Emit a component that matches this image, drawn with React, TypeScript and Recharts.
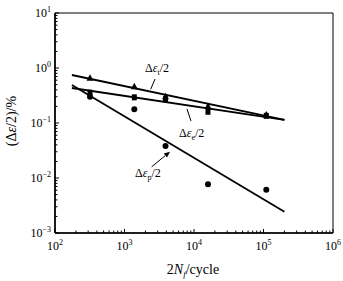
import React from 'react'
import {
  ComposedChart, Line, Scatter, XAxis, YAxis, ReferenceArea, ReferenceLine, ReferenceDot
} from 'recharts'

const FONT = '"Liberation Serif", "Times New Roman", serif'

// 轴的十进位
const xDecades = [2, 3, 4, 5, 6]
const yDecades = [-3, -2, -1, 0, 1]

// 实测点 2Nf / cycle
const cycles = [319, 1384, 3890, 15890, 109700]
const totalStrain = [0.65, 0.457, 0.3, 0.2, 0.14]
const elasticStrain = [0.356, 0.293, 0.27, 0.16, 0.135]
const plasticStrain = [0.3, 0.177, 0.038, 0.0077, 0.0061]

// 拟合直线两端
const fitCycles = [175, 200000]
const totalFit = [0.746, 0.1135]
const elasticFit = [0.433, 0.1135]
const plasticFit = [0.49, 0.00244]

const logTicks = (decades: number[]) => {
  const out: number[] = []
  decades.forEach((d, i) => {
    const last = i === decades.length - 1
    for (let m = 1; m <= (last ? 1 : 9); m++) out.push(Number((m * Math.pow(10, d)).toPrecision(3)))
  })
  return out
}
const xTicks = logTicks(xDecades)
const yTicks = logTicks(yDecades)

const zip = (xs: number[], ys: number[]) => xs.map((x, i) => ({ x, y: ys[i] }))
const tPts = zip(cycles, totalStrain)
const ePts = zip(cycles, elasticStrain)
const pPts = zip(cycles, plasticStrain)
const tLine = zip(fitCycles, totalFit)
const eLine = zip(fitCycles, elasticFit)
const pLine = zip(fitCycles, plasticFit)

const isMajor = (v: number) => {
  const lg = Math.log10(v)
  return Math.abs(lg - Math.round(lg)) < 1e-6
}
const expText = (v: number) => {
  const e = Math.round(Math.log10(v))
  return e < 0 ? `\u2212${-e}` : `${e}`
}

function XTick(props: any) {
  const { x, y, payload } = props
  const major = isMajor(payload.value)
  return (
    <g>
      <line x1={x} x2={x} y1={y} y2={y - (major ? 4 : 2.5)} stroke="#000" />
      {major && (
        <text x={x} y={y + 17} textAnchor="middle" fontFamily={FONT} fontSize={12} fill="#000">
          10<tspan dy={-5} fontSize={8}>{expText(payload.value)}</tspan>
        </text>
      )}
    </g>
  )
}

function YTick(props: any) {
  const { x, y, payload } = props
  const major = isMajor(payload.value)
  return (
    <g>
      <line x1={x} x2={x + (major ? 4 : 2.5)} y1={y} y2={y} stroke="#000" />
      {major && (
        <text x={x - 4} y={y + 4} textAnchor="end" fontFamily={FONT} fontSize={12} fill="#000">
          10<tspan dy={-5} fontSize={8}>{expText(payload.value)}</tspan>
        </text>
      )}
    </g>
  )
}

function XTitle(props: any) {
  const { x, y, width } = props.viewBox
  return (
    <text x={x + width / 2 - 1} y={y + 41} textAnchor="middle" fontFamily={FONT} fontSize={14} fill="#000">
      2<tspan fontStyle="italic">N</tspan>
      <tspan fontStyle="italic" fontSize={9} dy={3}>f</tspan>
      <tspan dy={-3}>/cycle</tspan>
    </text>
  )
}

function YTitle(props: any) {
  const { y, height } = props.viewBox
  const cy = y + height / 2 - 2
  return (
    <text x={16} y={cy} transform={`rotate(-90, 16, ${cy})`} textAnchor="middle" fontFamily={FONT} fontSize={14} fill="#000">
      (Δ<tspan fontStyle="italic">ε</tspan>/2)/%
    </text>
  )
}

const Triangle = (p: any) => (
  <path d={`M${p.cx},${p.cy - 4}L${p.cx + 3.5},${p.cy + 2.5}L${p.cx - 3.5},${p.cy + 2.5}Z`} fill="#000" />
)
const Square = (p: any) => <rect x={p.cx - 2.5} y={p.cy - 3} width={5} height={6} fill="#000" />
const Dot = (p: any) => <circle cx={p.cx} cy={p.cy} r={3} fill="#000" />

const strainLabel = (sub: string) => (p: any) => (
  <text x={p.cx} y={p.cy} fontFamily={FONT} fontSize={12} fill="#000">
    Δ<tspan fontStyle="italic">ε</tspan>
    <tspan fontSize={8} dy={3}>{sub}</tspan>
    <tspan dy={-3}>/2</tspan>
  </text>
)

const Arrow = (p: any) => {
  const { x1, y1, x2, y2 } = p
  const a = Math.atan2(y2 - y1, x2 - x1)
  const L = 6, W = 2.5
  const bx = x2 - L * Math.cos(a), by = y2 - L * Math.sin(a)
  const nx = -Math.sin(a) * W, ny = Math.cos(a) * W
  return (
    <g>
      <line x1={x1} y1={y1} x2={bx} y2={by} stroke="#000" strokeWidth={1} />
      <path d={`M${x2},${y2}L${bx + nx},${by + ny}L${bx - nx},${by - ny}Z`} fill="#000" />
    </g>
  )
}

export default function App() {
  return (
    <div style={{ position: 'absolute', left: 0, top: 0, background: '#fff' }}>
      <ComposedChart width={343} height={281} margin={{ top: 13, right: 10, bottom: 0, left: 0 }}>
        <XAxis
          dataKey="x" type="number" scale="log" domain={[100, 1000000]} allowDataOverflow
          ticks={xTicks} interval={0} tick={<XTick />} tickLine={false} tickSize={0} tickMargin={0}
          height={48} axisLine={{ stroke: '#000', strokeWidth: 1.6 }} label={<XTitle />}
        />
        <YAxis
          dataKey="y" type="number" scale="log" domain={[0.001, 10]} allowDataOverflow
          ticks={yTicks} interval={0} tick={<YTick />} tickLine={false} tickSize={0} tickMargin={0}
          width={55} axisLine={{ stroke: '#000', strokeWidth: 1.6 }} label={<YTitle />}
        />
        <ReferenceArea x1={100} x2={1000000} y1={0.001} y2={10} fill="none" stroke="#000" strokeWidth={1} />

        <Line data={tLine} dataKey="y" dot={false} stroke="#000" strokeWidth={1.8} isAnimationActive={false} />
        <Line data={eLine} dataKey="y" dot={false} stroke="#000" strokeWidth={1.8} isAnimationActive={false} />
        <Line data={pLine} dataKey="y" dot={false} stroke="#000" strokeWidth={1.8} isAnimationActive={false} />

        <Scatter data={tPts} dataKey="y" shape={Triangle} isAnimationActive={false} />
        <Scatter data={ePts} dataKey="y" shape={Square} isAnimationActive={false} />
        <Scatter data={pPts} dataKey="y" shape={Dot} isAnimationActive={false} />

        <ReferenceLine segment={[{ x: 2750, y: 0.631 }, { x: 2380, y: 0.41 }]} stroke="#000" />
        <ReferenceLine segment={[{ x: 7925, y: 0.18 }, { x: 9060, y: 0.1087 }]} stroke="#000" />
        <ReferenceLine segment={[{ x: 2460, y: 0.016 }, { x: 4520, y: 0.03 }]} shape={Arrow} />

        <ReferenceDot x={1970} y={0.846} r={1} shape={strainLabel('t')} />
        <ReferenceDot x={6085} y={0.0556} r={1} shape={strainLabel('e')} />
        <ReferenceDot x={1416} y={0.0104} r={1} shape={strainLabel('p')} />
      </ComposedChart>
    </div>
  )
}
